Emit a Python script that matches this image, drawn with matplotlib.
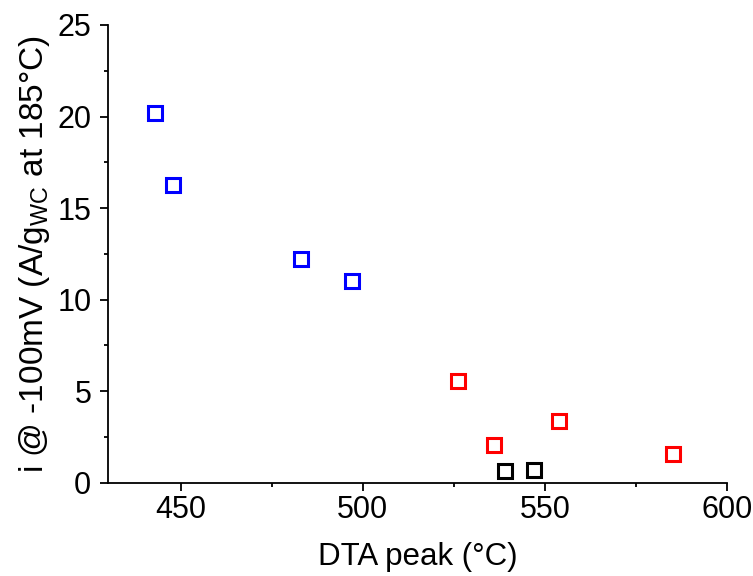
import numpy as np
import matplotlib
matplotlib.use('Agg')
import matplotlib.pyplot as plt
from matplotlib.ticker import MultipleLocator

plt.rcParams['font.family'] = ['Liberation Sans', 'DejaVu Sans']

# DTA peak (°C) vs current, three groups
blue_x = [443.0, 447.9, 482.9, 497.0]
blue_y = [20.2, 16.25, 12.2, 11.0]
red_x = [526.0, 536.0, 554.0, 585.1]
red_y = [5.58, 2.05, 3.39, 1.58]
black_x = [539.1, 547.1]
black_y = [0.64, 0.72]

fig = plt.figure(figsize=(7.53, 5.76), dpi=100)
ax = fig.add_axes([0.1434, 0.162, 0.822, 0.7946])

for xs, ys, c in [(blue_x, blue_y, 'blue'), (red_x, red_y, 'red'), (black_x, black_y, 'black')]:
    ax.plot(xs, ys, 's', ms=10, mfc='none', mec=c, mew=2.2, clip_on=False)

ax.set_xlim(430, 600)
ax.set_ylim(0, 25)
ax.xaxis.set_major_locator(MultipleLocator(50))
ax.xaxis.set_minor_locator(MultipleLocator(25))
ax.yaxis.set_major_locator(MultipleLocator(5))
ax.yaxis.set_minor_locator(MultipleLocator(2.5))
ax.spines['top'].set_visible(False)
ax.spines['right'].set_visible(False)
for s in ['left', 'bottom']:
    ax.spines[s].set_linewidth(1.3)
ax.tick_params(which='major', length=6, width=1.3, labelsize=22, direction='out')
ax.tick_params(which='minor', length=3, width=1.3, direction='out')
ax.tick_params(axis='x', pad=3)
ax.tick_params(axis='y', pad=6)

ax.set_xlabel('DTA peak (°C)', fontsize=22.5, labelpad=12)
ax.set_ylabel(r'i @ -100mV (A/g$_\mathregular{WC}$ at 185°C)', fontsize=24, labelpad=4)

fig.savefig('out.png', dpi=100)
